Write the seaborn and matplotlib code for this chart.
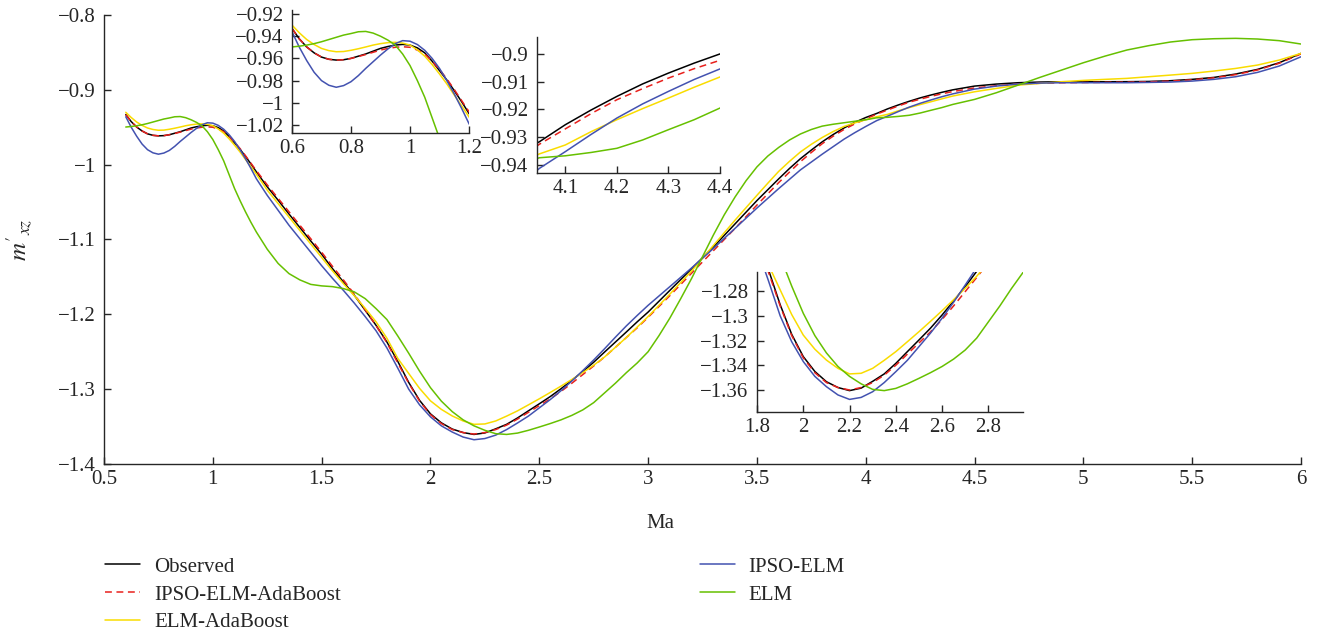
import matplotlib
matplotlib.use('Agg')
import matplotlib.pyplot as plt
from matplotlib.lines import Line2D
from matplotlib.ticker import FuncFormatter
import pandas as pd
import seaborn as sns

# Mach number grid (finer where the insets zoom in)
ma = [0.6, 0.65, 0.7, 0.75, 0.8, 0.85, 0.9, 0.95, 1.0, 1.05, 1.1, 1.15, 1.2, 1.25, 1.3, 1.35,
      1.4, 1.45, 1.5, 1.55, 1.6, 1.65, 1.7, 1.75, 1.8, 1.85, 1.9, 1.95, 2.0, 2.05, 2.1, 2.15,
      2.2, 2.25, 2.3, 2.35, 2.4, 2.45, 2.5, 2.55, 2.6, 2.65, 2.7, 2.75, 2.8, 2.85, 2.9, 2.95,
      3.0, 3.1, 3.2, 3.3, 3.4, 3.5, 3.6, 3.7, 3.8, 3.9, 4.0, 4.05, 4.1, 4.15, 4.2, 4.25, 4.3,
      4.35, 4.4, 4.5, 4.6, 4.7, 4.8, 4.9, 5.0, 5.1, 5.2, 5.3, 5.4, 5.5, 5.6, 5.7, 5.8, 5.9, 6.0]

observed = [-0.933, -0.9497, -0.9588, -0.9615, -0.960, -0.956, -0.951, -0.948, -0.948, -0.955,
            -0.971, -0.989, -1.0096, -1.0296, -1.0475, -1.066, -1.084, -1.102, -1.1197, -1.139,
            -1.1567, -1.1745, -1.1946, -1.2147, -1.237, -1.263, -1.291, -1.315, -1.333, -1.345,
            -1.3533, -1.358, -1.3605, -1.3585, -1.353, -1.347, -1.3385, -1.329, -1.3196, -1.31,
            -1.2994, -1.288, -1.2765, -1.264, -1.2504, -1.237, -1.2236, -1.210, -1.197, -1.168,
            -1.139, -1.110, -1.079, -1.048, -1.019, -0.992, -0.9695, -0.951, -0.937, -0.9316,
            -0.9255, -0.9202, -0.9153, -0.9108, -0.9069, -0.9033, -0.900, -0.895, -0.8923,
            -0.8905, -0.8896, -0.8892, -0.8892, -0.8892, -0.8891, -0.8888, -0.8878, -0.886,
            -0.8834, -0.8789, -0.8727, -0.8638, -0.8513]

ipso_elm_ada = [-0.933, -0.9497, -0.9588, -0.9615, -0.960, -0.9565, -0.9525, -0.950, -0.950, -0.956,
                -0.970, -0.988, -1.008, -1.027, -1.045, -1.063, -1.081, -1.099, -1.117, -1.136,
                -1.154, -1.173, -1.194, -1.215, -1.238, -1.265, -1.292, -1.316, -1.334, -1.346,
                -1.354, -1.358, -1.360, -1.358, -1.354, -1.348, -1.340, -1.331, -1.322, -1.313,
                -1.303, -1.292, -1.2805, -1.269, -1.257, -1.244, -1.231, -1.218, -1.204, -1.175,
                -1.145, -1.115, -1.085, -1.054, -1.024, -0.996, -0.972, -0.953, -0.939, -0.9325,
                -0.927, -0.9215, -0.9165, -0.9125, -0.9087, -0.9053, -0.9023, -0.8975, -0.8945,
                -0.8925, -0.8912, -0.8905, -0.8902, -0.8900, -0.8898, -0.8893, -0.8883, -0.8866,
                -0.884, -0.8797, -0.8735, -0.8645, -0.852]

elm_ada = [-0.930, -0.943, -0.951, -0.954, -0.9527, -0.9497, -0.9467, -0.9455, -0.948, -0.958,
           -0.974, -0.993, -1.0127, -1.034, -1.052, -1.070, -1.088, -1.106, -1.124, -1.142,
           -1.159, -1.175, -1.192, -1.210, -1.232, -1.259, -1.279, -1.299, -1.3156, -1.327,
           -1.3358, -1.3425, -1.347, -1.3465, -1.3425, -1.336, -1.329, -1.321, -1.3129, -1.3045,
           -1.2959, -1.287, -1.2778, -1.268, -1.257, -1.244, -1.231, -1.217, -1.203, -1.173,
           -1.142, -1.108, -1.074, -1.041, -1.009, -0.983, -0.9637, -0.949, -0.940, -0.936,
           -0.9328, -0.928, -0.9237, -0.9197, -0.9159, -0.912, -0.9083, -0.9026, -0.8981,
           -0.8937, -0.8914, -0.8892, -0.8874, -0.886, -0.8847, -0.8825, -0.8803, -0.878,
           -0.8749, -0.8714, -0.8669, -0.8602, -0.8513]

ipso_elm = [-0.936, -0.962, -0.980, -0.986, -0.981, -0.969, -0.957, -0.9467, -0.9445, -0.9527,
            -0.969, -0.992, -1.0188, -1.041, -1.061, -1.081, -1.099, -1.117, -1.135, -1.152,
            -1.168, -1.185, -1.203, -1.222, -1.245, -1.272, -1.300, -1.321, -1.337, -1.349,
            -1.3573, -1.364, -1.3676, -1.366, -1.3614, -1.354, -1.3452, -1.336, -1.325, -1.314,
            -1.302, -1.289, -1.2752, -1.261, -1.246, -1.2305, -1.2155, -1.2015, -1.188, -1.163,
            -1.138, -1.112, -1.085, -1.058, -1.032, -1.007, -0.986, -0.966, -0.949, -0.9412,
            -0.9352, -0.929, -0.9231, -0.918, -0.9135, -0.9092, -0.9054, -0.899, -0.895,
            -0.8923, -0.891, -0.8905, -0.8905, -0.8905, -0.8905, -0.8901, -0.8896, -0.8883,
            -0.886, -0.8825, -0.8767, -0.8682, -0.8558]

elm = [-0.9497, -0.948, -0.945, -0.941, -0.9376, -0.9357, -0.940, -0.948, -0.9664, -0.995,
       -1.032, -1.063, -1.090, -1.113, -1.132, -1.1456, -1.154, -1.160, -1.162, -1.163,
       -1.1656, -1.170, -1.179, -1.1924, -1.207, -1.229, -1.252, -1.276, -1.298, -1.316,
       -1.330, -1.341, -1.349, -1.355, -1.3595, -1.3605, -1.3587, -1.355, -1.3506, -1.346,
       -1.341, -1.335, -1.3277, -1.318, -1.305, -1.292, -1.278, -1.265, -1.250, -1.205,
       -1.152, -1.094, -1.043, -1.003, -0.977, -0.959, -0.9485, -0.944, -0.940, -0.9374,
       -0.9367, -0.9355, -0.934, -0.931, -0.9273, -0.9237, -0.9195, -0.9128, -0.9039,
       -0.8937, -0.8834, -0.8736, -0.8638, -0.8549, -0.8468, -0.841, -0.8361, -0.833,
       -0.8317, -0.8312, -0.8321, -0.8343, -0.8388]

# extra readings in between, where the curves bend most
ma_extra = [0.625, 0.675, 0.725, 0.775, 0.825, 0.875, 0.925, 0.975, 1.025, 1.075, 1.125, 1.175,
            3.05, 3.15, 3.25, 3.35, 3.45, 3.55, 3.65, 3.75, 3.85, 3.95]
observed_extra = [-0.9425, -0.955, -0.9608, -0.9612, -0.958, -0.9535, -0.9493, -0.9474, -0.9505,
                  -0.9625, -0.9795, -0.999,
                  -1.1825, -1.1535, -1.1245, -1.0945, -1.0635, -1.0335, -1.005, -0.9805, -0.9598,
                  -0.9435]
ipso_elm_ada_extra = [-0.9425, -0.955, -0.9608, -0.9612, -0.9583, -0.9545, -0.951, -0.9495, -0.9525,
                      -0.9625, -0.9785, -0.998,
                      -1.1895, -1.160, -1.130, -1.100, -1.0695, -1.039, -1.0098, -0.9837, -0.962,
                      -0.9455]
elm_ada_extra = [-0.937, -0.9475, -0.953, -0.9538, -0.9513, -0.948, -0.9458, -0.9462, -0.9523,
                 -0.9655, -0.983, -1.0027,
                 -1.188, -1.1575, -1.125, -1.091, -1.0575, -1.0248, -0.9955, -0.9728, -0.9558,
                 -0.9441]
ipso_elm_extra = [-0.950, -0.9725, -0.9842, -0.9845, -0.9755, -0.963, -0.9515, -0.944, -0.9475,
                  -0.960, -0.980, -1.005,
                  -1.1755, -1.1505, -1.125, -1.0985, -1.0715, -1.045, -1.0195, -0.9965, -0.976,
                  -0.9572]
elm_extra = [-0.949, -0.9467, -0.943, -0.939, -0.936, -0.9372, -0.9435, -0.956, -0.980, -1.0135,
             -1.048, -1.077,
             -1.2285, -1.179, -1.123, -1.067, -1.0215, -0.9885, -0.967, -0.953, -0.946, -0.942]

names = ['Observed', 'IPSO-ELM-AdaBoost', 'ELM-AdaBoost', 'IPSO-ELM', 'ELM']
series = [observed, ipso_elm_ada, elm_ada, ipso_elm, elm]
series_extra = [observed_extra, ipso_elm_ada_extra, elm_ada_extra, ipso_elm_extra, elm_extra]
palette = {'Observed': '#000000', 'IPSO-ELM-AdaBoost': '#e8201c', 'ELM-AdaBoost': '#f9dc00',
           'IPSO-ELM': '#4352b0', 'ELM': '#66c000'}
dashes = {'Observed': '', 'IPSO-ELM-AdaBoost': (4.5, 3), 'ELM-AdaBoost': '',
          'IPSO-ELM': '', 'ELM': ''}

frames = []
for n, s, se in zip(names, series, series_extra):
    frames.append(pd.DataFrame({'Ma': ma + ma_extra, 'value': s + se, 'model': n}))
df = pd.concat(frames).sort_values(['model', 'Ma']).reset_index(drop=True)

sns.set_style('ticks')
plt.rcParams['font.family'] = ['Liberation Serif', 'DejaVu Serif']
plt.rcParams['mathtext.fontset'] = 'stix'

FS = 15


def fmt(v, pos):
    return f'{v:g}'.replace('-', '\u2212')


def draw(ax, xlim, ylim, xticks, yticks):
    sns.lineplot(data=df, x='Ma', y='value', hue='model', style='model',
                 hue_order=names, style_order=names, palette=palette, dashes=dashes,
                 linewidth=1.1, estimator=None, sort=False, legend=False, ax=ax)
    ax.set_xlim(*xlim)
    ax.set_ylim(*ylim)
    ax.set_xticks(xticks)
    ax.set_yticks(yticks)
    ax.xaxis.set_major_formatter(FuncFormatter(fmt))
    ax.yaxis.set_major_formatter(FuncFormatter(fmt))
    sns.despine(ax=ax)
    for s in ['left', 'bottom']:
        ax.spines[s].set_linewidth(1.0)
    ax.tick_params(direction='in', length=5, width=1.0, labelsize=FS)
    ax.tick_params(axis='x', pad=4)
    ax.tick_params(axis='y', pad=6)
    ax.set_xlabel('')
    ax.set_ylabel('')
    ax.set_facecolor('none')


fig = plt.figure(figsize=(13.2, 6.33), dpi=100)

ax = fig.add_axes([0.0788, 0.267, 0.9068, 0.7093])
draw(ax, (0.5, 6), (-1.4, -0.8), [0.5, 1, 1.5, 2, 2.5, 3, 3.5, 4, 4.5, 5, 5.5, 6],
     [-1.4, -1.3, -1.2, -1.1, -1.0, -0.9, -0.8])
ax.set_xlabel('Ma', fontsize=FS)
ax.xaxis.set_label_coords(0.4645, -0.111)
ax.set_ylabel(r"$m'_{xz}$", fontsize=FS + 3)
ax.yaxis.set_label_coords(-0.058, 0.5)

# inset: 0.6 - 1.2
ax1 = fig.add_axes([0.2212, 0.7899, 0.1341, 0.1943])
draw(ax1, (0.6, 1.2), (-1.0272, -0.9164), [0.6, 0.8, 1.0, 1.2],
     [-1.02, -1.0, -0.98, -0.96, -0.94, -0.92])

# inset: 4.05 - 4.4
ax2 = fig.add_axes([0.4068, 0.7267, 0.1386, 0.2148])
draw(ax2, (4.045, 4.4), (-0.9429, -0.8939), [4.1, 4.2, 4.3, 4.4],
     [-0.94, -0.93, -0.92, -0.91, -0.9])

# inset: 1.8 - 2.95
ax3 = fig.add_axes([0.5735, 0.3491, 0.2015, 0.2212])
draw(ax3, (1.8, 2.95), (-1.3778, -1.2646), [1.8, 2.0, 2.2, 2.4, 2.6, 2.8],
     [-1.36, -1.34, -1.32, -1.3, -1.28])

handles = [Line2D([], [], color=palette[n], lw=1.1,
                  linestyle=(0, dashes[n]) if dashes[n] else '-') for n in names]
leg_kw = dict(loc='upper left', frameon=False, fontsize=FS, handlelength=1.7,
              handletextpad=0.65, labelspacing=0.4, borderaxespad=0, borderpad=0)
fig.legend(handles[:3], names[:3], bbox_to_anchor=(0.0795, 0.120), **leg_kw)
fig.legend(handles[3:], names[3:], bbox_to_anchor=(0.530, 0.120), **leg_kw)

fig.savefig('out.png', dpi=100)
